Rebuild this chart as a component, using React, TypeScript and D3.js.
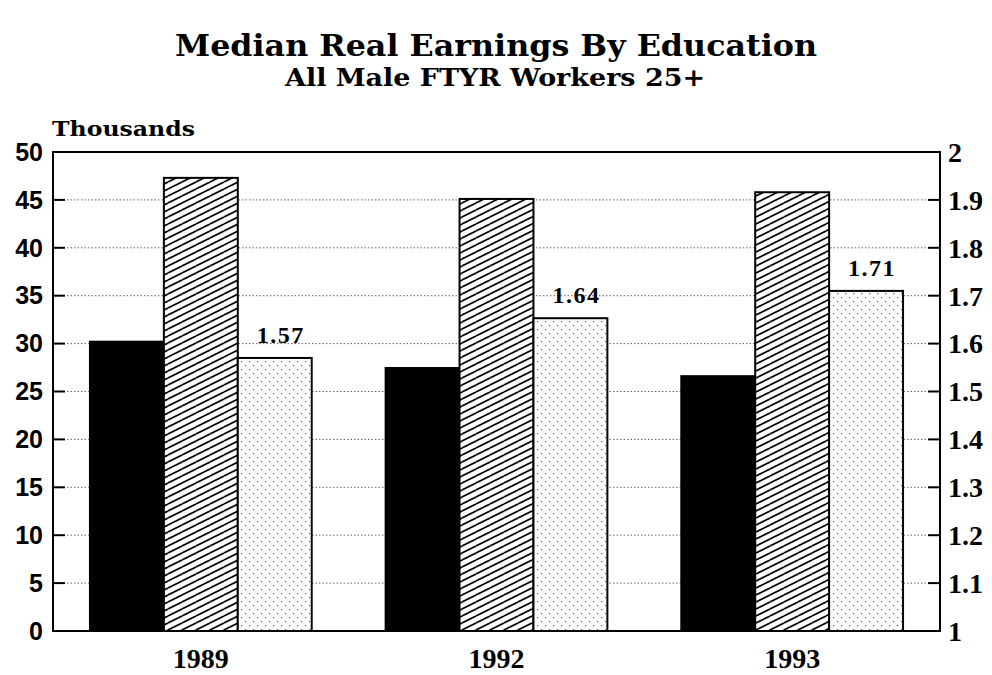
import React from 'react';
import * as d3 from 'd3';

const width = 992;
const height = 675;

const years = ['1989', '1992', '1993'];
// thousands of dollars (left axis)
const highSchool = [30.2, 27.45, 26.6];
const college = [47.3, 45.1, 45.8];
// college / high school ratio (right axis)
const ratio = [1.57, 1.653, 1.71];
const ratioLabels = ['1.57', '1.64', '1.71'];
const leftTicks = [0, 5, 10, 15, 20, 25, 30, 35, 40, 45, 50];
const rightTicks = [1, 1.1, 1.2, 1.3, 1.4, 1.5, 1.6, 1.7, 1.8, 1.9, 2];

const plot = { left: 53, right: 940, top: 152, bottom: 631 };

const x = d3.scaleBand().domain(years).range([plot.left, plot.right]).paddingInner(0.25).paddingOuter(0.125);
const sub = d3.scaleBand().domain(['hs', 'col', 'ratio']).range([0, x.bandwidth()]);
const yL = d3.scaleLinear().domain([0, 50]).range([plot.bottom, plot.top]);
const yR = d3.scaleLinear().domain([1, 2]).range([plot.bottom, plot.top]);

const serif = '"Liberation Serif", serif';
const slab = '"DejaVu Serif", serif';

export default function App() {
  const bw = sub.bandwidth();
  return (
    <svg width={width} height={height} style={{ position: 'absolute', left: 0, top: 0, background: '#fff' }}>
      <defs>
        <pattern id="hatch" patternUnits="userSpaceOnUse" width={14} height={7}>
          <path d="M0,7L14,0M0,0L14,-7M0,14L14,7" stroke="#000" strokeWidth={1.7} />
        </pattern>
        <pattern id="dots" patternUnits="userSpaceOnUse" width={8} height={8}>
          <rect x={1} y={1} width={1.2} height={1.2} fill="#666" />
          <rect x={5} y={5} width={1.2} height={1.2} fill="#666" />
        </pattern>
      </defs>

      <text x={496} y={56} textAnchor="middle" fontFamily={slab} fontWeight="bold" fontSize={29} textLength={642} lengthAdjust="spacingAndGlyphs">
        Median Real Earnings By Education
      </text>
      <text x={495} y={86} textAnchor="middle" fontFamily={slab} fontWeight="bold" fontSize={25} textLength={420} lengthAdjust="spacingAndGlyphs">
        All Male FTYR Workers 25+
      </text>
      <text x={52} y={136} fontFamily={slab} fontSize={21} fontWeight="bold" textLength={143} lengthAdjust="spacingAndGlyphs">
        Thousands
      </text>

      {/* grid */}
      {leftTicks.filter(t => t > 0 && t < 50).map(t => (
        <line key={t} x1={plot.left + 14} x2={plot.right - 14} y1={yL(t)} y2={yL(t)} stroke="#666" strokeWidth={1} strokeDasharray="1.5,2" />
      ))}

      {/* bars */}
      {years.map((yr, i) => {
        const x0 = x(yr)!;
        return (
          <g key={yr}>
            <rect x={x0 + sub('hs')!} y={yL(highSchool[i])} width={bw} height={yL(0) - yL(highSchool[i])} fill="#000" stroke="#000" strokeWidth={2} />
            <rect x={x0 + sub('col')!} y={yL(college[i])} width={bw} height={yL(0) - yL(college[i])} fill="#fff" />
            <rect x={x0 + sub('col')!} y={yL(college[i])} width={bw} height={yL(0) - yL(college[i])} fill="url(#hatch)" stroke="#000" strokeWidth={2} />
            <rect x={x0 + sub('ratio')!} y={yR(ratio[i])} width={bw} height={yR(1) - yR(ratio[i])} fill="#fff" />
            <rect x={x0 + sub('ratio')!} y={yR(ratio[i])} width={bw} height={yR(1) - yR(ratio[i])} fill="url(#dots)" stroke="#000" strokeWidth={2} />
            <text x={x0 + sub('ratio')! + bw / 2 + 6} y={yR(ratio[i]) - 15} textAnchor="middle" fontFamily={serif} fontWeight="bold" fontSize={24} letterSpacing={1.5}>
              {ratioLabels[i]}
            </text>
            <text x={x0 + x.bandwidth() / 2} y={668} textAnchor="middle" fontFamily={serif} fontWeight="bold" fontSize={28}>
              {yr}
            </text>
          </g>
        );
      })}

      {/* frame */}
      <rect x={plot.left} y={plot.top} width={plot.right - plot.left} height={plot.bottom - plot.top} fill="none" stroke="#000" strokeWidth={2} />

      {/* left axis */}
      {leftTicks.map(t => (
        <g key={t}>
          {t > 0 && t < 50 && <line x1={plot.left} x2={plot.left + 12} y1={yL(t)} y2={yL(t)} stroke="#000" strokeWidth={2} />}
          <text x={43} y={yL(t)} dy="0.35em" textAnchor="end" fontFamily='"Liberation Sans", sans-serif' fontWeight="bold" fontSize={25}>
            {t}
          </text>
        </g>
      ))}

      {/* right axis */}
      {rightTicks.map(t => (
        <g key={t}>
          {t > 1 && t < 2 && <line x1={plot.right - 12} x2={plot.right} y1={yR(t)} y2={yR(t)} stroke="#000" strokeWidth={2} />}
          <text x={948} y={yR(t)} dy="0.35em" fontFamily={serif} fontWeight="bold" fontSize={28}>
            {d3.format('.2~f')(t)}
          </text>
        </g>
      ))}
    </svg>
  );
}
